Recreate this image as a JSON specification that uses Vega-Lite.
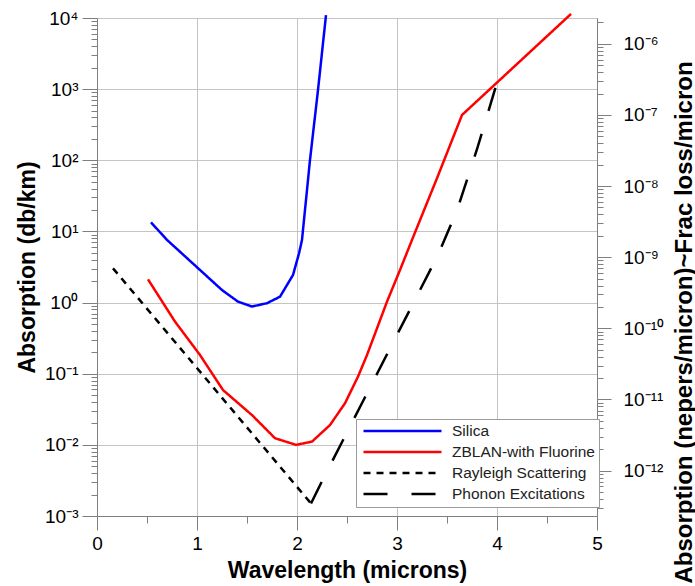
{
  "$schema": "https://vega.github.io/schema/vega-lite/v6.json",
  "width": 500,
  "height": 498,
  "autosize": {"type": "none"},
  "padding": {"left": 97, "top": 18, "right": 98, "bottom": 70},
  "config": {
    "view": {"stroke": null},
    "font": "Liberation Sans",
    "axis": {
      "domainColor": "#7f7f7f",
      "tickColor": "#7f7f7f",
      "gridColor": "#c4c4c4",
      "gridWidth": 1,
      "labelColor": "black",
      "titleColor": "black",
      "labelFont": "Liberation Sans",
      "titleFont": "Liberation Sans",
      "labelFontSize": 19,
      "titleFontSize": 23,
      "titleFontWeight": "bold",
      "labelFlush": false,
      "labelOverlap": false
    },
    "legend": {
      "orient": "none",
      "legendX": 259,
      "legendY": 401,
      "symbolType": "stroke",
      "symbolSize": 6084,
      "symbolStrokeWidth": 2.5,
      "symbolOffset": 2,
      "clipHeight": 16,
      "labelFont": "Liberation Sans",
      "labelFontSize": 15.5,
      "labelColor": "#222222",
      "strokeColor": "#9a9a9a",
      "fillColor": "white",
      "padding": 4,
      "labelOffset": 9,
      "rowPadding": 4
    }
  },
  "datasets": {
    "curves": [
      {"series": "Silica", "wavelength": 0.54, "absorption": 13.4},
      {"series": "Silica", "wavelength": 0.70, "absorption": 7.6},
      {"series": "Silica", "wavelength": 1.25, "absorption": 1.5},
      {"series": "Silica", "wavelength": 1.41, "absorption": 1.03},
      {"series": "Silica", "wavelength": 1.55, "absorption": 0.88},
      {"series": "Silica", "wavelength": 1.70, "absorption": 0.98},
      {"series": "Silica", "wavelength": 1.83, "absorption": 1.21},
      {"series": "Silica", "wavelength": 1.96, "absorption": 2.44},
      {"series": "Silica", "wavelength": 2.02, "absorption": 4.9},
      {"series": "Silica", "wavelength": 2.05, "absorption": 7.6},
      {"series": "Silica", "wavelength": 2.13, "absorption": 101},
      {"series": "Silica", "wavelength": 2.21, "absorption": 970},
      {"series": "Silica", "wavelength": 2.29, "absorption": 11000},
      {"series": "ZBLAN-with Fluorine", "wavelength": 0.51, "absorption": 2.12},
      {"series": "ZBLAN-with Fluorine", "wavelength": 0.78, "absorption": 0.54},
      {"series": "ZBLAN-with Fluorine", "wavelength": 1.03, "absorption": 0.183},
      {"series": "ZBLAN-with Fluorine", "wavelength": 1.26, "absorption": 0.059},
      {"series": "ZBLAN-with Fluorine", "wavelength": 1.55, "absorption": 0.0262},
      {"series": "ZBLAN-with Fluorine", "wavelength": 1.78, "absorption": 0.0124},
      {"series": "ZBLAN-with Fluorine", "wavelength": 1.99, "absorption": 0.0100},
      {"series": "ZBLAN-with Fluorine", "wavelength": 2.15, "absorption": 0.0111},
      {"series": "ZBLAN-with Fluorine", "wavelength": 2.33, "absorption": 0.019},
      {"series": "ZBLAN-with Fluorine", "wavelength": 2.48, "absorption": 0.0384},
      {"series": "ZBLAN-with Fluorine", "wavelength": 2.61, "absorption": 0.091},
      {"series": "ZBLAN-with Fluorine", "wavelength": 2.70, "absorption": 0.183},
      {"series": "ZBLAN-with Fluorine", "wavelength": 2.90, "absorption": 1.03},
      {"series": "ZBLAN-with Fluorine", "wavelength": 3.03, "absorption": 2.87},
      {"series": "ZBLAN-with Fluorine", "wavelength": 3.15, "absorption": 7.6},
      {"series": "ZBLAN-with Fluorine", "wavelength": 3.40, "absorption": 56},
      {"series": "ZBLAN-with Fluorine", "wavelength": 3.65, "absorption": 433},
      {"series": "ZBLAN-with Fluorine", "wavelength": 4.74, "absorption": 11400},
      {"series": "Rayleigh Scattering", "wavelength": 0.16, "absorption": 3.03},
      {"series": "Rayleigh Scattering", "wavelength": 2.14, "absorption": 0.0015},
      {"series": "Phonon Excitations", "wavelength": 2.14, "absorption": 0.0015},
      {"series": "Phonon Excitations", "wavelength": 2.26, "absorption": 0.0033},
      {"series": "Phonon Excitations", "wavelength": 3.41, "absorption": 4.67},
      {"series": "Phonon Excitations", "wavelength": 3.60, "absorption": 19.8},
      {"series": "Phonon Excitations", "wavelength": 3.80, "absorption": 143},
      {"series": "Phonon Excitations", "wavelength": 4.01, "absorption": 1380}
    ],
    "rightaxis": [
      {"nepers": 2.303e-13},
      {"nepers": 2.303e-6}
    ]
  },
  "layer": [
    {
      "data": {"name": "curves"},
      "mark": {"type": "line", "strokeWidth": 2.5, "clip": false},
      "encoding": {
        "x": {
          "field": "wavelength",
          "type": "quantitative",
          "scale": {"domain": [0, 5], "nice": false, "zero": false},
          "axis": {
            "title": "Wavelength (microns)",
            "values": [0, 0.5, 1, 1.5, 2, 2.5, 3, 3.5, 4, 4.5, 5],
            "labelExpr": "datum.value % 1 == 0 ? format(datum.value, 'd') : ''",
            "tickSize": {"condition": {"test": "datum.value % 1 == 0", "value": 14}, "value": 7},
            "gridOpacity": {"condition": {"test": "datum.value % 1 == 0", "value": 1}, "value": 0},
            "labelPadding": 4,
            "titlePadding": 6
          }
        },
        "y": {
          "field": "absorption",
          "type": "quantitative",
          "scale": {"type": "log", "domain": [0.001, 10000], "nice": false},
          "axis": {
            "title": "Absorption (db/km)",
            "values": [0.001, 0.002, 0.003, 0.004, 0.005, 0.006, 0.007, 0.008, 0.009,
                       0.01, 0.02, 0.03, 0.04, 0.05, 0.06, 0.07, 0.08, 0.09,
                       0.1, 0.2, 0.3, 0.4, 0.5, 0.6, 0.7, 0.8, 0.9,
                       1, 2, 3, 4, 5, 6, 7, 8, 9,
                       10, 20, 30, 40, 50, 60, 70, 80, 90,
                       100, 200, 300, 400, 500, 600, 700, 800, 900,
                       1000, 2000, 3000, 4000, 5000, 6000, 7000, 8000, 9000, 10000],
            "labelExpr": "abs(log(datum.value)/LN10 - round(log(datum.value)/LN10)) < 1e-6 ? '10' + (round(log(datum.value)/LN10) < 0 ? '⁻' : '') + ['⁰','¹','²','³','⁴','⁵','⁶','⁷','⁸','⁹','¹⁰','¹¹','¹²'][abs(round(log(datum.value)/LN10))] : ''",
            "tickSize": {"condition": {"test": "abs(log(datum.value)/LN10 - round(log(datum.value)/LN10)) < 1e-6", "value": 15}, "value": 6},
            "gridOpacity": {"condition": {"test": "abs(log(datum.value)/LN10 - round(log(datum.value)/LN10)) < 1e-6", "value": 1}, "value": 0},
            "labelPadding": 4,
            "titlePadding": 5
          }
        },
        "color": {
          "field": "series",
          "type": "nominal",
          "scale": {
            "domain": ["Silica", "ZBLAN-with Fluorine", "Rayleigh Scattering", "Phonon Excitations"],
            "range": ["#0000ff", "#ff0000", "#000000", "#000000"]
          },
          "legend": {"title": null}
        },
        "strokeDash": {
          "field": "series",
          "type": "nominal",
          "scale": {
            "domain": ["Silica", "ZBLAN-with Fluorine", "Rayleigh Scattering", "Phonon Excitations"],
            "range": [[1, 0], [1, 0], [7, 6], [24, 24]]
          },
          "legend": {"title": null}
        }
      }
    },
    {
      "data": {"name": "rightaxis"},
      "mark": {"type": "point", "opacity": 0},
      "encoding": {
        "y": {
          "field": "nepers",
          "type": "quantitative",
          "scale": {"type": "log", "domain": [2.303e-13, 2.303e-6], "nice": false},
          "axis": {
            "orient": "right",
            "grid": false,
            "title": "Absorption (nepers/micron)~Frac loss/micron",
            "titleFontSize": 24,
            "titleAngle": 270,
            "titleAlign": "left",
            "titleBaseline": "middle",
            "titleX": 87,
            "titleY": 565,
            "values": [3e-13, 4e-13, 5e-13, 6e-13, 7e-13, 8e-13, 9e-13,
                       1e-12, 2e-12, 3e-12, 4e-12, 5e-12, 6e-12, 7e-12, 8e-12, 9e-12,
                       1e-11, 2e-11, 3e-11, 4e-11, 5e-11, 6e-11, 7e-11, 8e-11, 9e-11,
                       1e-10, 2e-10, 3e-10, 4e-10, 5e-10, 6e-10, 7e-10, 8e-10, 9e-10,
                       1e-9, 2e-9, 3e-9, 4e-9, 5e-9, 6e-9, 7e-9, 8e-9, 9e-9,
                       1e-8, 2e-8, 3e-8, 4e-8, 5e-8, 6e-8, 7e-8, 8e-8, 9e-8,
                       1e-7, 2e-7, 3e-7, 4e-7, 5e-7, 6e-7, 7e-7, 8e-7, 9e-7,
                       1e-6, 2e-6],
            "labelExpr": "abs(log(datum.value)/LN10 - round(log(datum.value)/LN10)) < 1e-6 ? '10' + (round(log(datum.value)/LN10) < 0 ? '⁻' : '') + ['⁰','¹','²','³','⁴','⁵','⁶','⁷','⁸','⁹','¹⁰','¹¹','¹²'][abs(round(log(datum.value)/LN10))] : ''",
            "tickSize": {"condition": {"test": "abs(log(datum.value)/LN10 - round(log(datum.value)/LN10)) < 1e-6", "value": 14}, "value": 6},
            "labelPadding": 12
          }
        }
      }
    }
  ],
  "resolve": {"scale": {"y": "independent"}}
}
